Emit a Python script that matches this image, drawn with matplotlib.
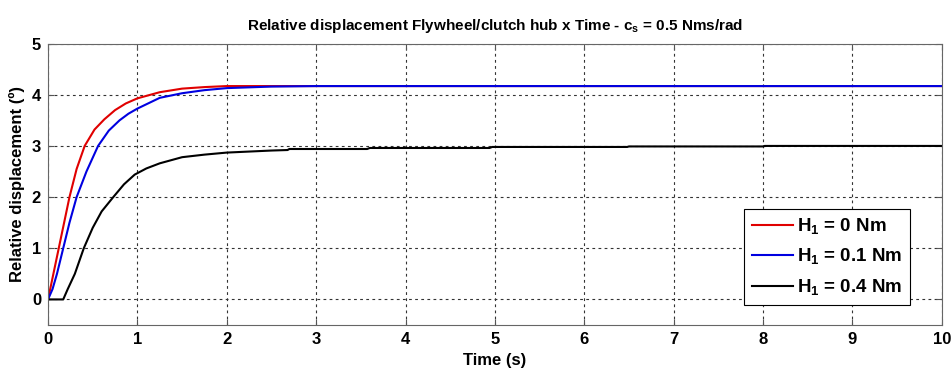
import matplotlib
matplotlib.use("Agg")
import matplotlib.pyplot as plt

# time (s) / relative displacement (deg) for the three H1 cases
t_h0 = [0, 0.03, 0.06, 0.12, 0.18, 0.24, 0.32, 0.41, 0.52, 0.63, 0.75, 0.87, 1.0,
        1.25, 1.5, 1.75, 2.0, 3.0, 4.0, 5.0, 6.0, 7.0, 8.0, 9.0, 10.0]
d_h0 = [0, 0.25, 0.5, 1.0, 1.5, 2.0, 2.55, 3.0, 3.32, 3.52, 3.70, 3.83, 3.93,
        4.05, 4.12, 4.15, 4.17, 4.17, 4.17, 4.17, 4.17, 4.17, 4.17, 4.17, 4.17]

t_h01 = [0, 0.05, 0.1, 0.17, 0.24, 0.32, 0.43, 0.56, 0.68, 0.80, 0.9, 1.0,
         1.25, 1.5, 1.75, 2.0, 2.5, 3.0, 4.0, 5.0, 6.0, 7.0, 8.0, 9.0, 10.0]
d_h01 = [0, 0.2, 0.5, 1.0, 1.5, 2.0, 2.5, 3.0, 3.3, 3.5, 3.63, 3.73,
         3.94, 4.03, 4.09, 4.13, 4.16, 4.17, 4.17, 4.17, 4.17, 4.17, 4.17, 4.17, 4.17]

t_h04 = [0, 0.17, 0.22, 0.3, 0.4, 0.5, 0.6, 0.73, 0.85, 0.97, 1.1, 1.25, 1.5,
         1.75, 2.0, 2.5, 2.68, 2.7, 3.57, 3.6, 4.94, 4.97, 6.48, 6.5, 8.0, 8.02, 10.0]
d_h04 = [0, 0, 0.2, 0.5, 1.0, 1.4, 1.72, 2.0, 2.25, 2.44, 2.56, 2.66, 2.78,
         2.83, 2.87, 2.91, 2.92, 2.94, 2.94, 2.96, 2.96, 2.98, 2.98, 2.99, 2.99, 3.0, 3.0]

labels = ['H$_\\mathbf{1}$ = 0 Nm', 'H$_\\mathbf{1}$ = 0.1 Nm', 'H$_\\mathbf{1}$ = 0.4 Nm']

fam = 'Liberation Sans'
plt.rcParams['font.family'] = [fam, 'DejaVu Sans']
plt.rcParams['font.weight'] = 'bold'
plt.rcParams['mathtext.fontset'] = 'custom'
plt.rcParams['mathtext.rm'] = fam + ':bold'
plt.rcParams['mathtext.bf'] = fam + ':bold'

fig = plt.figure(figsize=(9.51, 3.72), dpi=100)
ax = fig.add_axes([0.0505, 0.1263, 0.9398, 0.7565])

ax.plot(t_h0, d_h0, color='#e00000', lw=1.5, label=labels[0])
ax.plot(t_h01, d_h01, color='#0000e0', lw=1.5, label=labels[1])
ax.plot(t_h04, d_h04, color='black', lw=1.5, label=labels[2])

ax.set_xlim(0, 10)
ax.set_ylim(-0.5, 5)
ax.set_xticks(range(0, 11))
ax.set_yticks(range(0, 6))
ax.grid(True, color='#333333', linestyle=(0, (2.5, 3)), linewidth=0.8)
ax.tick_params(direction='in', top=True, right=True, length=4, labelsize=12,
               color='#555555', pad=5)
for s in ax.spines.values():
    s.set_color('#666666')

ax.set_title('Relative displacement Flywheel/clutch hub x Time - c$_\\mathbf{s}$ = 0.5 Nms/rad',
             fontsize=11, fontweight='bold', pad=10)
ax.set_xlabel('Time (s)', fontsize=12, fontweight='bold', labelpad=4)
ax.set_ylabel('Relative displacement (º)', fontsize=12, fontweight='bold', labelpad=5)

leg = ax.legend(loc='lower right', bbox_to_anchor=(0.964, 0.07), fontsize=13.5,
                frameon=True, fancybox=False, edgecolor='black', framealpha=1,
                handlelength=2.2, handletextpad=0.2, borderpad=0.4,
                labelspacing=0.55, borderaxespad=0)
leg.get_frame().set_linewidth(0.8)

fig.savefig('out.png', dpi=100)
